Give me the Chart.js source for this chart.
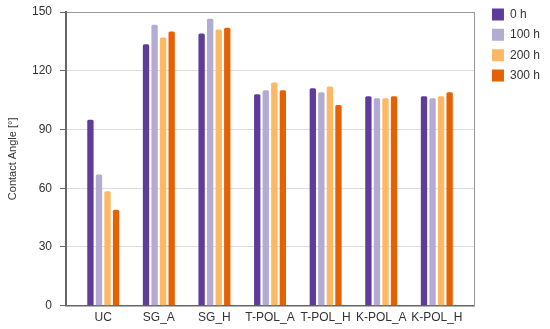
<!DOCTYPE html>
<html>
<head>
<meta charset="utf-8">
<style>
  html, body { margin: 0; padding: 0; background: #fff; }
  #wrap { width: 550px; height: 329px; }
</style>
</head>
<body>
<div id="wrap"><canvas id="myChart"></canvas></div>
<script src="https://cdn.jsdelivr.net/npm/chart.js@4"></script>
<script>
const categories = ['UC', 'SG_A', 'SG_H', 'T-POL_A', 'T-POL_H', 'K-POL_A', 'K-POL_H'];
const seriesNames = ['0 h', '100 h', '200 h', '300 h'];
const h0   = [95, 133.5, 139, 108, 111, 107, 107];
const h100 = [67, 143.5, 146.5, 110, 109, 106, 106];
const h200 = [58.5, 137, 141, 114, 112, 106, 107];
const h300 = [49, 140, 142, 110, 102.5, 107, 109];
const yTicks = [0, 30, 60, 90, 120, 150];

const colors = ['#5e3c99', '#b2abd2', '#fdb863', '#e66101'];
const font = 'Liberation Sans, Arial, sans-serif';

const ctx = document.getElementById('myChart');

const toPoints = (vals) => vals.map((v, i) => ({ x: i, y: v }));

new Chart(ctx, {
  type: 'bar',
  data: {
    datasets: [h0, h100, h200, h300].map((vals, k) => ({
      label: seriesNames[k],
      data: toPoints(vals),
      backgroundColor: colors[k],
      borderWidth: 0,
      borderRadius: 1.5,
      categoryPercentage: 0.615,
      barPercentage: 0.74
    }))
  },
  options: {
    responsive: true,
    maintainAspectRatio: false,
    animation: false,
    devicePixelRatio: 1,
    layout: { padding: 0 },
    plugins: {
      tooltip: { enabled: false },
      legend: {
        position: 'right',
        align: 'start',
        labels: {
          boxWidth: 12,
          boxHeight: 12,
          padding: 8.4,
          color: '#333',
          font: { family: font, size: 12 }
        }
      }
    },
    scales: {
      x: {
        type: 'linear',
        offset: false,
        min: -0.67,
        max: 6.67,
        grid: { display: false, drawTicks: false, offset: false },
        border: { color: '#666', width: 1.5 },
        afterBuildTicks: (scale) => { scale.ticks = categories.map((c, i) => ({ value: i })); },
        afterFit: (scale) => { scale.height = 23.3; },
        ticks: {
          padding: 5,
          color: '#333',
          font: { family: font, size: 12 },
          autoSkip: false,
          maxRotation: 0,
          callback: (v) => categories[v]
        }
      },
      y: {
        min: 0,
        max: 150,
        afterBuildTicks: (scale) => { scale.ticks = yTicks.map(v => ({ value: v })); },
        afterFit: (scale) => { scale.width = 66; scale.paddingTop = 12; },
        grid: {
          color: (c) => (c.tick && c.tick.value === 150 ? '#999' : '#ddd'),
          tickColor: '#666',
          tickLength: 6,
          lineWidth: 1
        },
        border: { color: '#666', width: 2 },
        ticks: {
          padding: 8,
          color: '#333',
          font: { family: font, size: 12 }
        },
        title: {
          display: true,
          text: 'Contact Angle [°]',
          color: '#333',
          padding: { top: 6, bottom: 0 },
          font: { family: font, size: 11 }
        }
      },
      y2: {
        position: 'right',
        display: true,
        grid: { display: false, drawTicks: false },
        ticks: { display: false },
        border: { color: '#999', width: 1 },
        afterFit: (scale) => { scale.width = 9.5; }
      }
    }
  }
});
</script>
</body>
</html>
